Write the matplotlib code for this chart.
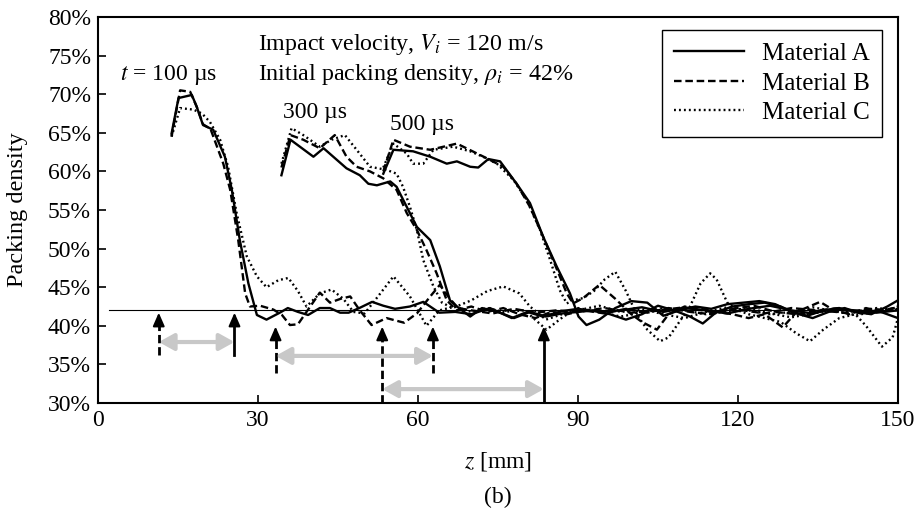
import numpy as np
import matplotlib.pyplot as plt

plt.rcParams['font.family'] = ['Liberation Serif', 'DejaVu Serif']
plt.rcParams['mathtext.fontset'] = 'stix'

# packing density profiles (z in mm, density in %)
# t = 100 us
A100_z = [13.8, 15.1, 17.6, 18.5, 19.7, 21.6, 23.8, 25.1, 26.6, 28.2, 29.8, 31.6, 34.1, 35.6, 37.5, 39.4, 41.6, 43.5, 45.4, 47.0,
          49.0, 51.4, 53.5, 55.7, 58.5, 61.0, 64.0, 67.0, 70.0, 73.5, 77.6, 80.5, 83.4, 87.0, 90.0, 94.0, 98.0, 102, 106, 110,
          114, 118, 122, 126, 130, 134, 138, 142, 146, 150]
A100_p = [64.9, 69.5, 69.9, 68.4, 66.0, 65.4, 61.9, 57.6, 51.1, 45.5, 41.4, 40.8, 41.7, 42.3, 41.8, 41.4, 42.3, 42.3, 41.7, 41.7,
          42.3, 43.1, 42.6, 42.2, 42.5, 43.1, 41.7, 41.8, 41.5, 42.3, 41.0, 41.8, 41.2, 41.9, 42.2, 41.8, 42.0, 42.4, 41.8, 42.3,
          42.0, 41.6, 42.2, 42.6, 42.0, 41.6, 42.2, 42.0, 41.7, 42.0]
B100_z = [13.8, 15.4, 17.3, 18.5, 19.7, 21.1, 23.5, 24.8, 26.3, 27.6, 28.5, 30.4, 32.9, 34.5, 36.0, 37.5, 39.8, 41.6, 43.5, 45.5,
          47.3, 49.1, 51.3, 54.1, 57.4, 59.8, 62.3, 64.1, 66.0, 67.5, 70, 74, 78, 82, 86, 90, 95, 100, 105, 110,
          115, 120, 125, 130, 135, 140, 145, 150]
B100_p = [64.5, 70.5, 70.3, 68.4, 66.1, 65.5, 61.0, 57.6, 51.1, 44.2, 42.5, 42.6, 42.1, 41.4, 40.1, 40.2, 42.5, 44.3, 43.0, 43.5,
          43.8, 42.0, 40.1, 41.0, 40.4, 41.6, 43.8, 45.3, 43.5, 42.3, 42.0, 41.6, 42.2, 41.7, 42.0, 41.8, 42.3, 41.7, 42.0, 42.4,
          41.8, 42.1, 41.6, 42.3, 42.0, 41.7, 42.2, 41.9]
C100_z = [13.8, 15.4, 17.9, 19.5, 21.0, 22.9, 24.4, 26.0, 27.9, 29.8, 31.6, 33.8, 35.7, 37.5, 39.1, 41.6, 43.8, 46.0, 47.9, 50.0,
          52.5, 55.4, 58.5, 61.6, 64, 67, 70, 73, 76, 80, 84.1, 87.3, 90, 94, 98, 102, 106, 110, 114, 118,
          122, 126, 130, 134, 138, 142, 146, 150]
C100_p = [64.5, 68.2, 68.0, 67.5, 66.4, 64.1, 60.6, 54.6, 49.0, 46.4, 45.0, 45.9, 46.2, 44.5, 42.5, 44.2, 44.7, 43.5, 41.8, 41.6,
          43.8, 46.4, 43.8, 40.0, 42.0, 42.5, 41.8, 42.3, 41.8, 42.0, 39.5, 41.2, 42.3, 41.8, 41.2, 41.7, 42.3, 42.0, 41.5, 41.9,
          42.3, 41.6, 41.1, 41.6, 42.1, 41.8, 42.3, 42.0]

# t = 300 us
A300_z = [34.4, 36.1, 40.4, 42.3, 46.6, 49.1, 50.7, 52.3, 54.8, 56.0, 57.9, 59.8, 62.3, 64.1, 66.0, 67.3, 69.8, 72, 75, 78,
          81, 84, 87, 90, 93, 96, 99, 102, 105, 108, 111, 113.4, 116, 119, 122, 125, 128, 131, 134, 137,
          140, 143, 146, 150]
A300_p = [59.5, 64.1, 61.9, 63.0, 60.4, 59.5, 58.4, 58.2, 58.7, 58.0, 55.4, 52.8, 51.1, 47.7, 43.3, 42.5, 41.2, 42.3, 41.8, 41.0,
          41.8, 41.2, 41.6, 41.8, 42.0, 41.5, 40.8, 41.5, 42.6, 42.0, 41.2, 40.3, 41.8, 42.5, 42.8, 43.0, 42.5, 41.6, 41.0, 41.8,
          42.3, 41.6, 42.0, 41.0]
B300_z = [34.4, 36.1, 38.5, 41.6, 44.4, 46.6, 48.5, 51.0, 53.5, 56.0, 57.9, 59.8, 61.6, 63.5, 65.4, 67.3, 70, 73, 76, 79,
          82, 85, 88, 91, 95, 99, 103, 107, 111, 115, 119, 123, 127, 131, 135, 139, 143, 147, 150]
B300_p = [60.5, 64.7, 64.1, 63.0, 64.7, 61.9, 60.6, 60.0, 59.1, 57.6, 54.6, 52.4, 49.8, 46.8, 43.3, 42.0, 42.5, 41.8, 42.3, 41.5,
          41.0, 41.8, 41.5, 42.0, 41.6, 42.2, 41.7, 42.3, 41.8, 41.5, 42.2, 42.6, 41.8, 41.5, 42.0, 42.3, 41.7, 42.0, 42.4]
C300_z = [34.4, 36.3, 38.5, 41.6, 43.8, 46.3, 48.5, 51.0, 54.1, 56.0, 57.2, 58.5, 59.8, 61.0, 62.9, 64.5, 66.5, 70, 73, 76,
          79, 81, 84, 87, 90, 94, 98, 102, 106, 110, 114, 118, 122, 126, 130, 134, 138, 142, 146, 150]
C300_p = [61.0, 65.6, 64.7, 63.2, 64.1, 64.7, 62.8, 60.6, 60.2, 59.7, 58.0, 55.4, 52.4, 48.5, 45.1, 43.0, 42.3, 43.3, 44.5, 45.1,
          44.2, 42.5, 40.8, 41.5, 42.0, 42.6, 41.8, 42.2, 41.5, 41.0, 41.8, 42.4, 42.0, 41.5, 41.8, 42.4, 41.9, 41.4, 41.8, 42.2]

# t = 500 us
A500_z = [53.5, 55.4, 59.1, 62.3, 65.4, 67.3, 69.8, 71.3, 73.2, 75.4, 78.5, 81, 83.5, 86, 88.5, 90.1, 91.6, 94, 97, 100,
          103, 106, 109, 112, 115, 118, 121, 124, 127, 130, 133, 136, 139, 142, 145, 148, 150]
A500_p = [59.7, 62.8, 62.6, 61.9, 61.0, 61.3, 60.6, 60.5, 61.6, 61.3, 58.4, 55.9, 51.5, 47.7, 44.2, 41.2, 40.1, 40.8, 42.3, 43.2,
          43.0, 41.3, 42.0, 42.5, 42.2, 42.8, 43.0, 43.2, 42.8, 41.8, 41.3, 42.0, 42.3, 41.8, 41.5, 42.5, 43.3]
B500_z = [53.5, 55.4, 58.5, 62.3, 67.3, 72.9, 76, 78.5, 81, 83.5, 86, 87.9, 89.1, 91, 94, 97, 100, 102, 104.8, 107,
          110, 113, 116, 119, 122, 125, 128.4, 131, 135.4, 138, 141, 144, 147, 150]
B500_p = [60.0, 64.1, 63.2, 62.8, 63.6, 61.7, 60.6, 58.4, 55.4, 51.5, 47.4, 44.2, 42.9, 43.6, 45.3, 43.5, 41.5, 40.5, 39.5, 41.5,
          42.5, 42.2, 41.8, 41.5, 41.0, 41.5, 39.8, 41.8, 43.1, 42.0, 41.5, 42.3, 41.8, 42.5]
C500_z = [53.5, 55.4, 57.9, 59.1, 61, 62.9, 66.6, 69.8, 72.2, 74.8, 77.9, 80.4, 82.9, 84.8, 86.6, 87.9, 89.1, 91, 93, 95,
          97, 99, 101, 103, 105.4, 107, 109, 111, 113, 114.8, 116, 118, 120, 122, 125, 128, 131, 133.5, 136, 139,
          142, 144, 147, 149, 150]
C500_p = [60.5, 63.6, 62.3, 61.0, 61.0, 62.8, 63.2, 62.6, 61.9, 61.0, 58.9, 56.3, 52.4, 48.5, 44.6, 42.9, 43.3, 43.6, 44.5, 46.0,
          47.0, 44.5, 41.5, 39.5, 38.0, 38.5, 40.5, 42.5, 45.5, 46.8, 46.0, 43.0, 42.0, 41.5, 41.0, 40.5, 39.0, 38.0, 39.5, 41.0,
          41.5, 40.0, 37.3, 38.5, 41.0]

initial_density = 42.0

# front markers (arrows) and the distances between them
arrow_z = [11.4, 25.6, 33.3, 62.8, 53.3, 83.6]
arrow_tip = [41.7, 41.7, 39.9, 39.9, 39.9, 39.9]
arrow_base = [36.2, 36.2, 33.9, 33.9, 30.0, 30.0]
arrow_ls = ['--', '-', '--', '--', '--', '-']
span_start = [11.4, 33.3, 53.3]
span_end = [25.6, 62.8, 83.6]
span_y = [37.9, 36.1, 31.8]

fig = plt.figure(figsize=(9.19, 5.13), dpi=100)
ax = fig.add_axes([0.1066, 0.2144, 0.8705, 0.7525])

lw = 1.7
solid = dict(color='k', lw=lw, ls='-')
dashed = dict(color='k', lw=lw, ls=(0, (3.2, 1.6)))
dotted = dict(color='k', lw=lw, ls=(0, (0.8, 1.3)))

ax.plot([2, 150], [initial_density, initial_density], color='k', lw=0.8)

ax.plot(A100_z, A100_p, **solid)
ax.plot(B100_z, B100_p, **dashed)
ax.plot(C100_z, C100_p, **dotted)
ax.plot(A300_z, A300_p, **solid)
ax.plot(B300_z, B300_p, **dashed)
ax.plot(C300_z, C300_p, **dotted)
ax.plot(A500_z, A500_p, label='Material A', **solid)
ax.plot(B500_z, B500_p, label='Material B', **dashed)
ax.plot(C500_z, C500_p, label='Material C', **dotted)

# gray double arrows
for s, e, y in zip(span_start, span_end, span_y):
    ax.annotate('', xy=(e, y), xytext=(s, y),
                arrowprops=dict(arrowstyle='<|-|>,head_length=0.9,head_width=0.5',
                                color='#c8c8c8', lw=3, shrinkA=0, shrinkB=0))

# black arrows
for z, tip, base, ls in zip(arrow_z, arrow_tip, arrow_base, arrow_ls):
    if ls == '--':
        ax.plot([z, z], [base, tip - 1.2], color='k', lw=2, ls=(0, (3, 1.4)))
    else:
        ax.plot([z, z], [base, tip - 1.2], color='k', lw=2)
    ax.annotate('', xy=(z, tip), xytext=(z, tip - 1.3),
                arrowprops=dict(arrowstyle='-|>,head_length=0.8,head_width=0.35',
                                color='k', lw=1.5, shrinkA=0, shrinkB=0))

ax.text(4.1, 72.5, r'$t$ = 100 µs', fontsize=17, va='center', ha='left')
ax.text(34.7, 67.6, '300 µs', fontsize=17, va='center', ha='left')
ax.text(54.8, 66.1, '500 µs', fontsize=17, va='center', ha='left')
ax.text(30, 76.4, r'Impact velocity, $V_i$ = 120 m/s', fontsize=17.3, va='center', ha='left')
ax.text(30, 72.6, r'Initial packing density, $\rho_i$ = 42%', fontsize=17.3, va='center', ha='left')

ax.set_xlim(0, 150)
ax.set_ylim(30, 80)
ax.set_xticks(np.arange(0, 151, 30))
ax.set_yticks(np.arange(30, 81, 5))
ax.set_yticklabels(['%d%%' % v for v in range(30, 81, 5)])
ax.tick_params(direction='in', length=6, width=1.2, labelsize=17, pad=5)
for sp in ax.spines.values():
    sp.set_linewidth(1.5)

ax.set_xlabel(r'$z$ [mm]', fontsize=17, labelpad=14)
ax.set_ylabel('Packing density', fontsize=17.5, labelpad=14)
fig.text(0.542, 0.031, '(b)', fontsize=17, ha='center', va='center')

leg = ax.legend(loc='upper right', bbox_to_anchor=(0.98, 0.966), fontsize=18,
                fancybox=False, edgecolor='k', framealpha=1, handlelength=2.8,
                labelspacing=0.28, borderpad=0.5, handletextpad=0.7, borderaxespad=0)
leg.get_frame().set_linewidth(1.0)

fig.savefig('out.png', dpi=100)
